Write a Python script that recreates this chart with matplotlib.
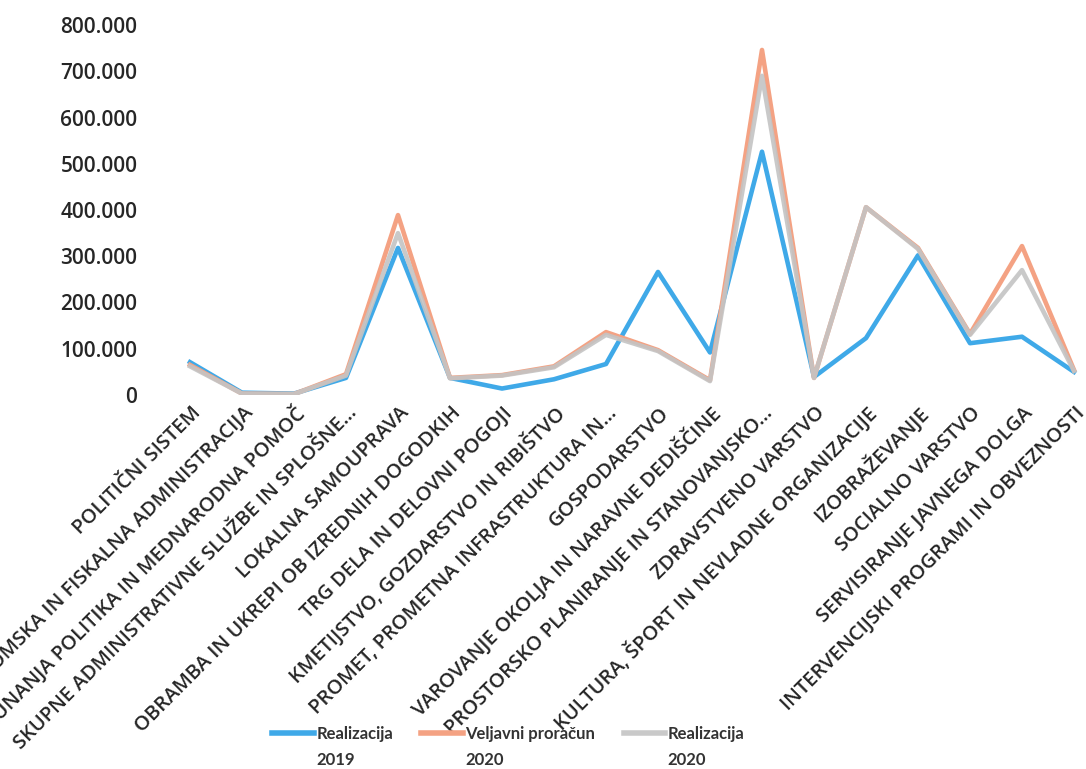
import matplotlib.pyplot as plt
from matplotlib.ticker import FuncFormatter
from matplotlib.transforms import ScaledTranslation

kategorije = [
    "POLITIČNI SISTEM",
    "EKONOMSKA IN FISKALNA ADMINISTRACIJA",
    "ZUNANJA POLITIKA IN MEDNARODNA POMOČ",
    "SKUPNE ADMINISTRATIVNE SLUŽBE IN SPLOŠNE...",
    "LOKALNA SAMOUPRAVA",
    "OBRAMBA IN UKREPI OB IZREDNIH DOGODKIH",
    "TRG DELA IN DELOVNI POGOJI",
    "KMETIJSTVO, GOZDARSTVO IN RIBIŠTVO",
    "PROMET, PROMETNA INFRASTRUKTURA IN...",
    "GOSPODARSTVO",
    "VAROVANJE OKOLJA IN NARAVNE DEDIŠČINE",
    "PROSTORSKO PLANIRANJE IN STANOVANJSKO...",
    "ZDRAVSTVENO VARSTVO",
    "KULTURA, ŠPORT IN NEVLADNE ORGANIZACIJE",
    "IZOBRAŽEVANJE",
    "SOCIALNO VARSTVO",
    "SERVISIRANJE JAVNEGA DOLGA",
    "INTERVENCIJSKI PROGRAMI IN OBVEZNOSTI",
]

real_2019 = [71000, 5000, 3000, 37000, 318000, 37000, 14000, 34000, 67000, 266000,
             92000, 526000, 39000, 123000, 302000, 112000, 126000, 50000]
proracun_2020 = [65000, 3000, 2000, 45000, 389000, 37000, 43000, 62000, 136000, 97000,
                 32000, 746000, 37000, 406000, 318000, 132000, 322000, 54000]
real_2020 = [62000, 3000, 2000, 42000, 350000, 36000, 42000, 60000, 130000, 95000,
             30000, 690000, 37000, 406000, 316000, 130000, 270000, 52000]

plt.rcParams['font.family'] = ['Open Sans', 'DejaVu Sans']

fig = plt.figure(figsize=(10.86, 7.69), dpi=100)
ax = fig.add_axes([168/1086, 1 - 395/769, 912/1086, 370/769])

x = list(range(len(kategorije)))
ax.plot(x, real_2019, color='#3fa9e8', lw=3.3, solid_joinstyle='round', label='Realizacija\n2019')
ax.plot(x, proracun_2020, color='#f4a283', lw=3.3, solid_joinstyle='round', label='Veljavni proračun\n2020')
ax.plot(x, real_2020, color='#c4c4c4', lw=3.3, solid_joinstyle='round', alpha=0.9, label='Realizacija\n2020')

ax.set_xlim(-22/52, 17 + 6/52)
ax.set_ylim(0, 800000)
ax.set_yticks(range(0, 800001, 100000))
ax.yaxis.set_major_formatter(FuncFormatter(lambda v, p: f"{int(v):,}".replace(",", ".")))
ax.tick_params(axis='y', length=0, pad=22, labelsize=15, labelcolor='#262626')
for t in ax.get_yticklabels():
    t.set_fontweight('semibold')
ax.set_xticks(x)
ax.set_xticklabels(kategorije, rotation=45, ha='right', va='center', rotation_mode='anchor',
                   fontsize=14.5, color='#262626', fontweight='semibold')
ax.tick_params(axis='x', length=0, pad=11)
pomak = ScaledTranslation(8/100, 0, fig.dpi_scale_trans)
for t in ax.get_xticklabels():
    t.set_transform(t.get_transform() + pomak)
for s in ax.spines.values():
    s.set_visible(False)

leg = fig.legend(loc='center', bbox_to_anchor=(0.468, 0.029), ncol=3, frameon=False,
                 prop={'family': 'Lato', 'size': 12, 'weight': 'bold'}, handlelength=2.5,
                 columnspacing=1.7, handletextpad=0.15)
for t in leg.get_texts():
    t.set_linespacing(1.75)
    t.set_color('#333333')
for l in leg.get_lines():
    l.set_linewidth(4)
    l.set_ydata([v + 10 for v in l.get_ydata()])

fig.savefig('out.png', dpi=100)
